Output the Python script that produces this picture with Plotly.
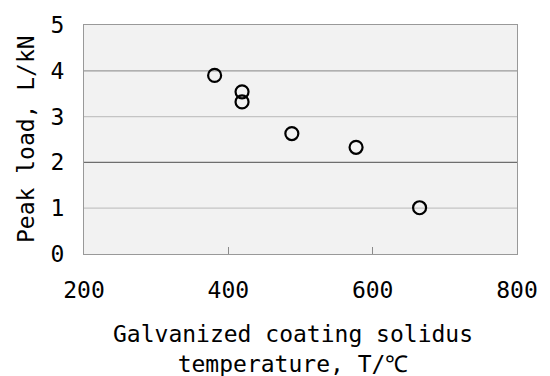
import plotly.graph_objects as go

# Data
temperature_c = [381, 419, 419, 488, 577, 665]
peak_load_kn = [3.90, 3.54, 3.32, 2.63, 2.33, 1.01]

x_ticks = [200, 400, 600, 800]
y_ticks = [0, 1, 2, 3, 4, 5]
grid_values = [1, 2, 3, 4]
grid_colors = ["#c4c4c4", "#6e6e6e", "#c4c4c4", "#9a9a9a"]

x_title = "Galvanized coating solidus<br>temperature, T/℃"
y_title = "Peak load, L/kN"

FONT = "DejaVu Sans Mono"

fig = go.Figure()
fig.add_trace(go.Scatter(
    x=temperature_c, y=peak_load_kn, mode="markers",
    marker=dict(symbol="circle-open", size=13, color="black",
                line=dict(color="black", width=2.2)),
    showlegend=False, hoverinfo="x+y",
))

for v, c in zip(grid_values, grid_colors):
    fig.add_shape(type="line", xref="paper", x0=0, x1=1, yref="y", y0=v, y1=v,
                  line=dict(color=c, width=1.3), layer="below")

fig.update_layout(
    width=550, height=376,
    margin=dict(l=84, r=29, t=20, b=122),
    paper_bgcolor="white", plot_bgcolor="#f2f2f2",
    font=dict(family=FONT, size=22, color="black"),
    xaxis=dict(range=[200, 800], tickvals=x_ticks, ticks="inside", ticklen=7,
               tickcolor="#8a8a8a", tickwidth=1, showgrid=False, zeroline=False,
               showline=True, linecolor="#999999", linewidth=1, mirror=True,
               ticklabelstandoff=15, tickfont=dict(family=FONT, size=23)),
    yaxis=dict(range=[0, 5], tickvals=y_ticks, ticks="", showgrid=False,
               zeroline=False, showline=True, linecolor="#999999", linewidth=1,
               mirror=True, ticklabelstandoff=14,
               tickfont=dict(family=FONT, size=23)),
    annotations=[
        dict(text=x_title, xref="paper", yref="paper", x=0.483, y=-0.415,
             xanchor="center", yanchor="middle", showarrow=False,
             font=dict(family=FONT, size=23, color="black")),
        dict(text=y_title, xref="paper", yref="paper", x=-0.135, y=0.5,
             xanchor="center", yanchor="middle", showarrow=False, textangle=-90,
             font=dict(family=FONT, size=23, color="black")),
    ],
)

fig.write_html("out.html")
